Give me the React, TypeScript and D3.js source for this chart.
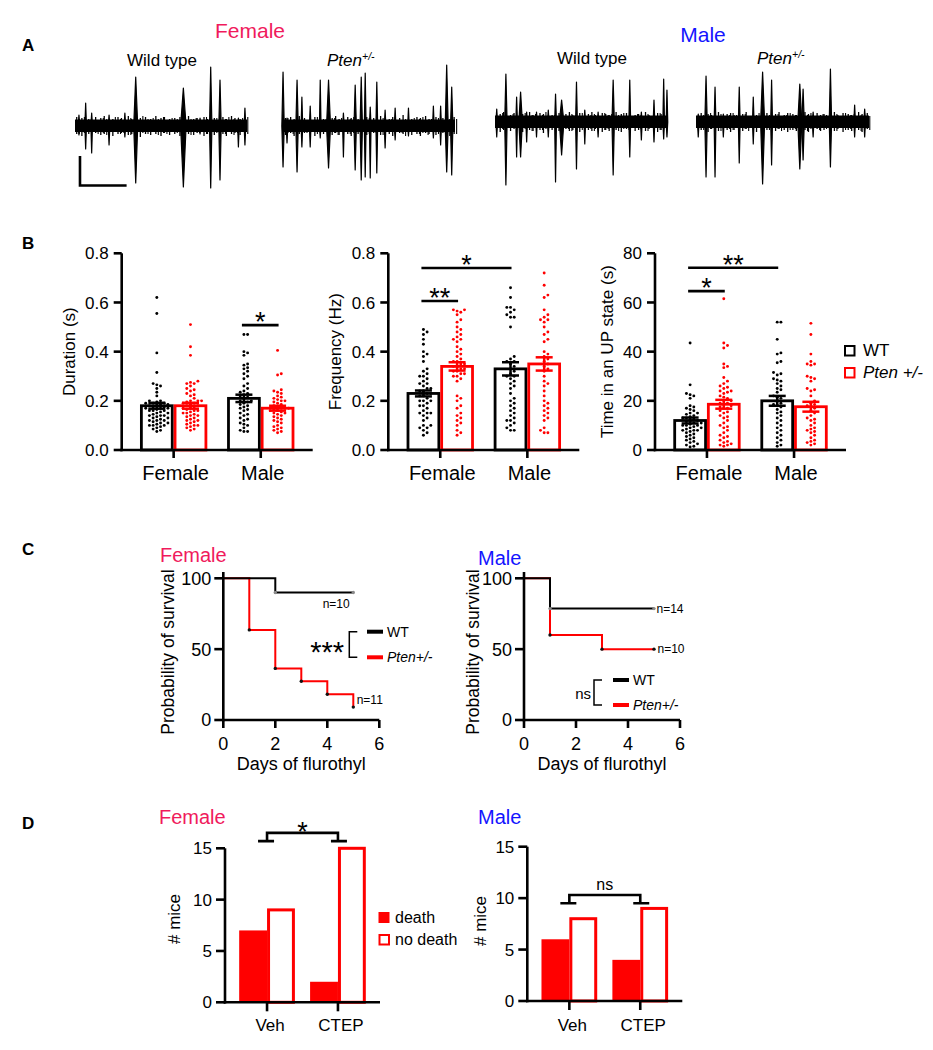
import React from 'react';
import * as d3 from 'd3';

const FONT = "'Liberation Sans', Arial, Helvetica, sans-serif";
const FEMALE_COLOR = '#f01a5c';
const MALE_COLOR = '#1414ff';
const RED = '#ff0000';
const BLACK = '#000000';

// ---------------- Panel A : spikes [position 0-1, up, down, width] ----------------
const femaleWTSpikes = [
  [0.023, 11, 9, 1.6], [0.062, 23, 23, 1.6], [0.097, 13, 27, 1.6], [0.198, 11, 19, 1.6], [0.29, 13, 11, 1.6],
  [0.353, 49, 57, 4], [0.63, 38, 61, 5.5], [0.727, 8, 8, 1.6], [0.789, 59, 62, 2.4], [0.843, 46, 54, 2.4],
  [0.95, 8, 21, 1.6], [0.988, 18, 19, 1.6],
];
const femalePtenSpikes = [
  [0.006, 54, 41, 2.4], [0.029, 8, 17, 1.6], [0.087, 46, 46, 2.4], [0.115, 29, 21, 1.6], [0.163, 20, 21, 1.6],
  [0.221, 46, 12, 1.6], [0.269, 46, 42, 4], [0.355, 13, 31, 1.6], [0.423, 41, 44, 2.4], [0.458, 49, 54, 2.4],
  [0.481, 53, 51, 1.8], [0.51, 19, 52, 1.6], [0.548, 44, 47, 1.8], [0.596, 16, 22, 1.6], [0.654, 18, 14, 1.6],
  [0.731, 18, 10, 1.6], [0.875, 20, 12, 1.6], [0.917, 20, 19, 1.6], [0.952, 61, 46, 3], [0.981, 39, 49, 2.4],
];
const maleWTSpikes = [
  [0.01, 13, 15, 1.6], [0.063, 48, 63, 2.4], [0.125, 25, 35, 1.6], [0.148, 30, 35, 3.5], [0.183, 10, 20, 1.6],
  [0.24, 10, 15, 1.6], [0.308, 12, 15, 1.6], [0.35, 28, 60, 1.8], [0.385, 22, 33, 4.5], [0.471, 40, 47, 1.8],
  [0.519, 12, 22, 1.6], [0.596, 10, 15, 1.6], [0.683, 42, 53, 2.4], [0.779, 42, 35, 1.8], [0.846, 10, 18, 1.6],
  [0.919, 22, 20, 1.6], [0.975, 43, 17, 1.6], [0.994, 32, 15, 1.6],
];
const malePtenSpikes = [
  [0.013, 8, 15, 1.6], [0.058, 46, 55, 2.4], [0.11, 35, 55, 1.8], [0.158, 8, 15, 1.6], [0.25, 35, 41, 1.8],
  [0.331, 25, 22, 1.6], [0.385, 50, 62, 4], [0.437, 42, 43, 1.8], [0.6, 38, 47, 4], [0.619, 33, 38, 2.4],
  [0.677, 10, 15, 1.6], [0.777, 53, 45, 2.4], [0.917, 17, 15, 1.6], [0.975, 13, 15, 1.6],
];
// small ripples of the baseline [position, up, down]
const femaleWTNoise = [
  [0.01, 7, 6], [0.04, 6, 8], [0.08, 5, 6], [0.12, 7, 5], [0.15, 6, 7], [0.17, 8, 6], [0.22, 5, 8], [0.25, 7, 6],
  [0.27, 6, 5], [0.31, 8, 7], [0.33, 5, 6], [0.38, 6, 9], [0.41, 7, 6], [0.44, 5, 7], [0.47, 8, 6], [0.5, 6, 8],
  [0.52, 7, 5], [0.55, 5, 7], [0.58, 6, 6], [0.61, 7, 8], [0.66, 8, 6], [0.69, 5, 7], [0.71, 6, 5], [0.75, 7, 8],
  [0.77, 5, 6], [0.81, 6, 7], [0.86, 7, 6], [0.88, 5, 8], [0.91, 8, 6], [0.93, 6, 5], [0.96, 5, 7], [0.99, 7, 8],
];
const femalePtenNoise = [
  [0.02, 6, 7], [0.05, 7, 5], [0.07, 5, 8], [0.1, 8, 6], [0.13, 6, 5], [0.19, 7, 8], [0.24, 5, 6], [0.29, 6, 7],
  [0.31, 8, 5], [0.33, 5, 7], [0.38, 7, 6], [0.4, 6, 8], [0.44, 5, 6], [0.49, 7, 7], [0.53, 6, 5], [0.57, 8, 7],
  [0.62, 5, 6], [0.64, 7, 8], [0.68, 6, 5], [0.7, 9, 6], [0.75, 5, 7], [0.78, 7, 6], [0.8, 6, 8], [0.83, 8, 5],
  [0.85, 5, 6], [0.89, 7, 7], [0.93, 6, 5], [0.97, 5, 8], [0.995, 7, 6],
];
const maleWTNoise = [
  [0.03, 6, 8], [0.05, 8, 6], [0.09, 5, 7], [0.11, 7, 5], [0.16, 6, 8], [0.2, 8, 6], [0.22, 5, 7], [0.26, 7, 6],
  [0.28, 6, 9], [0.33, 5, 6], [0.37, 7, 7], [0.41, 6, 5], [0.43, 8, 7], [0.45, 5, 6], [0.49, 7, 8], [0.54, 6, 6],
  [0.56, 8, 7], [0.58, 5, 5], [0.62, 7, 8], [0.64, 6, 6], [0.66, 5, 7], [0.7, 8, 6], [0.73, 6, 8], [0.76, 7, 5],
  [0.81, 5, 7], [0.83, 6, 6], [0.87, 8, 7], [0.89, 5, 5], [0.94, 7, 8], [0.96, 6, 6],
];
const malePtenNoise = [
  [0.03, 7, 6], [0.07, 6, 8], [0.09, 5, 5], [0.13, 8, 7], [0.18, 6, 6], [0.2, 7, 8], [0.22, 5, 6], [0.27, 6, 7],
  [0.29, 8, 5], [0.35, 5, 8], [0.41, 7, 6], [0.46, 6, 7], [0.48, 8, 5], [0.51, 5, 6], [0.53, 7, 8], [0.56, 6, 6],
  [0.58, 5, 7], [0.63, 8, 6], [0.65, 6, 8], [0.7, 7, 5], [0.72, 5, 7], [0.74, 6, 6], [0.8, 8, 7], [0.82, 5, 5],
  [0.85, 7, 8], [0.88, 6, 6], [0.9, 5, 7], [0.94, 8, 6], [0.96, 6, 8], [0.99, 7, 5],
];

// ---------------- Panel B ----------------
const sexes = ['Female', 'Male'];
const genotypes = ['WT', 'Pten'];

const durationMeans = [0.18, 0.18, 0.21, 0.17];
const durationSem = [0.012, 0.012, 0.015, 0.01];
const durFemaleWT = [0.62, 0.555, 0.395, 0.315, 0.27, 0.265, 0.26, 0.25, 0.235, 0.22, 0.2, 0.195, 0.19, 0.19, 0.185, 0.185,
  0.18, 0.18, 0.175, 0.175, 0.17, 0.17, 0.165, 0.16, 0.16, 0.155, 0.15, 0.15, 0.145, 0.14, 0.14, 0.135, 0.13, 0.13, 0.125,
  0.12, 0.12, 0.115, 0.11, 0.11, 0.105, 0.1, 0.1, 0.095, 0.09, 0.085, 0.08, 0.075, 0.19, 0.2, 0.17, 0.16, 0.14, 0.12, 0.1];
const durFemalePten = [0.51, 0.42, 0.385, 0.28, 0.275, 0.27, 0.27, 0.26, 0.25, 0.245, 0.24, 0.23, 0.225, 0.22, 0.21, 0.2,
  0.2, 0.195, 0.19, 0.19, 0.185, 0.18, 0.18, 0.175, 0.17, 0.17, 0.165, 0.16, 0.155, 0.15, 0.15, 0.145, 0.14, 0.135, 0.13,
  0.125, 0.12, 0.115, 0.11, 0.105, 0.1, 0.095, 0.09, 0.085, 0.08, 0.2, 0.16, 0.14, 0.12, 0.1];
const durMaleWT = [0.47, 0.47, 0.4, 0.395, 0.385, 0.35, 0.345, 0.335, 0.33, 0.32, 0.31, 0.3, 0.29, 0.27, 0.26, 0.25, 0.24,
  0.235, 0.225, 0.22, 0.215, 0.21, 0.2, 0.195, 0.19, 0.185, 0.18, 0.175, 0.17, 0.165, 0.16, 0.15, 0.145, 0.14, 0.13, 0.125,
  0.12, 0.11, 0.105, 0.1, 0.09, 0.08, 0.075, 0.075, 0.23, 0.2];
const durMalePten = [0.405, 0.31, 0.305, 0.245, 0.24, 0.235, 0.23, 0.22, 0.215, 0.21, 0.205, 0.2, 0.2, 0.195, 0.19, 0.185,
  0.18, 0.175, 0.17, 0.17, 0.165, 0.16, 0.155, 0.15, 0.15, 0.145, 0.14, 0.135, 0.13, 0.125, 0.12, 0.115, 0.11, 0.1, 0.095,
  0.09, 0.085, 0.08, 0.075, 0.07, 0.17, 0.16];
const durationSig = [{ a: 2, b: 3, v: 0.508, label: '*' }];

const freqMeans = [0.23, 0.34, 0.33, 0.35];
const freqSem = [0.012, 0.017, 0.027, 0.027];
const freqFemaleWT = [0.49, 0.48, 0.47, 0.45, 0.43, 0.4, 0.39, 0.38, 0.36, 0.33, 0.32, 0.31, 0.3, 0.3, 0.29, 0.28, 0.27,
  0.27, 0.26, 0.25, 0.24, 0.24, 0.23, 0.23, 0.22, 0.22, 0.21, 0.2, 0.2, 0.19, 0.18, 0.17, 0.16, 0.15, 0.15, 0.15, 0.14,
  0.13, 0.12, 0.1, 0.1, 0.09, 0.09, 0.08, 0.07, 0.06, 0.2, 0.18, 0.25];
const freqFemalePten = [0.57, 0.57, 0.565, 0.56, 0.55, 0.53, 0.52, 0.5, 0.49, 0.48, 0.47, 0.46, 0.45, 0.45, 0.44, 0.42,
  0.41, 0.4, 0.39, 0.38, 0.37, 0.36, 0.36, 0.35, 0.35, 0.34, 0.34, 0.33, 0.33, 0.32, 0.32, 0.31, 0.31, 0.3, 0.3, 0.29, 0.28,
  0.22, 0.21, 0.2, 0.18, 0.17, 0.15, 0.14, 0.13, 0.12, 0.11, 0.1, 0.08, 0.07, 0.06];
const freqMaleWT = [0.66, 0.62, 0.58, 0.58, 0.57, 0.56, 0.55, 0.54, 0.54, 0.5, 0.38, 0.37, 0.36, 0.36, 0.35, 0.34, 0.33,
  0.32, 0.31, 0.3, 0.3, 0.29, 0.28, 0.27, 0.26, 0.25, 0.23, 0.21, 0.2, 0.19, 0.18, 0.17, 0.16, 0.15, 0.14, 0.13, 0.12, 0.12,
  0.11, 0.1, 0.09, 0.08, 0.08];
const freqMalePten = [0.72, 0.67, 0.63, 0.62, 0.57, 0.55, 0.54, 0.53, 0.53, 0.52, 0.5, 0.48, 0.47, 0.45, 0.44, 0.4, 0.39,
  0.38, 0.37, 0.36, 0.35, 0.34, 0.33, 0.32, 0.3, 0.28, 0.27, 0.26, 0.24, 0.22, 0.2, 0.19, 0.18, 0.17, 0.16, 0.15, 0.14,
  0.13, 0.12, 0.09, 0.08, 0.07, 0.07];
const freqSig = [{ a: 0, b: 1, v: 0.606, label: '**' }, { a: 0, b: 2, v: 0.74, label: '*' }];

const timeMeans = [12, 18.6, 20, 17.6];
const timeSem = [1.2, 1.8, 2.0, 2.0];
const timeFemaleWT = [43.5, 26.5, 23, 22.5, 22, 21, 18, 17.5, 17, 16.5, 16, 15, 15, 14.5, 14, 13.5, 13, 13, 12.5, 12, 11.5,
  11, 11, 10.5, 10, 10, 9.5, 9, 9, 8.5, 8, 8, 7.5, 7, 6.5, 6, 5.5, 5, 4.5, 4, 3.5, 3, 2.5, 2, 1.5, 1.2, 12, 10, 8];
const timeFemalePten = [61.5, 43.5, 42.5, 41.5, 35, 34, 33.5, 29.5, 28, 27, 26, 25.5, 25, 24, 24, 23.5, 23, 22, 21.5, 21,
  20, 20, 19, 18.5, 18, 17.5, 17, 16, 15.5, 15, 14, 13.5, 13, 12, 11, 10, 9.5, 9, 8, 7, 6, 5.5, 5, 4, 3.5, 3, 2.5, 2, 2,
  1.5, 19, 17];
const timeMaleWT = [52, 52, 45, 39.5, 39, 36, 35.5, 31.5, 31, 30.5, 29, 28.5, 28, 27, 26, 25, 24.5, 23.5, 22, 21.5, 21, 20,
  19, 18.5, 17.5, 16.5, 15.5, 15, 14, 13, 12, 11, 10, 9, 8, 7, 6, 5, 4, 3, 2, 1.5, 18];
const timeMalePten = [51.5, 47, 39, 36, 35, 35, 34.5, 30, 29.5, 29, 28, 25, 24.5, 24, 22, 20, 19, 18.5, 18, 17, 16, 15, 14,
  13, 12.5, 12, 11, 10, 9, 8.5, 8, 7.5, 7, 6, 5, 4, 3.5, 3, 2.5, 2, 17.5];
const timeSig = [{ a: 0, b: 1, v: 64.6, label: '*' }, { a: 0, b: 2, v: 74.1, label: '**' }];

const durTicks = [0, 0.2, 0.4, 0.6, 0.8];
const freqTicks = [0, 0.2, 0.4, 0.6, 0.8];
const timeTicks = [0, 20, 40, 60, 80];

// ---------------- Panel C : Kaplan-Meier [day, % surviving] ----------------
const survFemaleWT = [[0, 100], [2, 90], [5, 90]];
const survFemalePten = [[0, 100], [1, 63.6], [2, 36.4], [3, 27.3], [4, 18.2], [5, 9.1]];
const survMaleWT = [[0, 100], [1, 78.6], [5, 78.6]];
const survMalePten = [[0, 100], [1, 60], [3, 50], [5, 50]];
const survXTicks = [0, 2, 4, 6];
const survYTicks = [0, 50, 100];

// ---------------- Panel D : counts ----------------
const treatments = ['Veh', 'CTEP'];
const femaleDeath = [7, 2];
const femaleNoDeath = [9, 15];
const maleDeath = [6, 4];
const maleNoDeath = [8, 9];
const countTicks = [0, 5, 10, 15];

// ---------------- helpers ----------------
function swarm(values: number[], y: (v: number) => number, cx: number, half: number, r: number) {
  const placed: { x: number; y: number }[] = [];
  const sorted = [...values].sort((a, b) => a - b);
  const step = r * 2 + 0.8;
  const offsets: number[] = [0];
  for (let k = 1; k * step <= half; k++) offsets.push(k * step, -k * step);
  const minD = r * 2 + 0.6;
  for (const v of sorted) {
    const py = y(v);
    let best = 0;
    let bestScore = -Infinity;
    for (const o of offsets) {
      const px = cx + o;
      let md = Infinity;
      for (const p of placed) {
        const d = Math.hypot(p.x - px, p.y - py);
        if (d < md) md = d;
      }
      if (md >= minD) { best = o; break; }
      if (md > bestScore) { bestScore = md; best = o; }
    }
    placed.push({ x: cx + best, y: py });
  }
  return placed;
}

function Trace({ x0, x1, base, spikes, noise }: any) {
  const xs = d3.scaleLinear().domain([0, 1]).range([x0, x1]);
  const ys = d3.scaleLinear().domain([-80, 80]).range([base + 80, base - 80]);
  return (
    <g>
      <rect x={xs(0)} y={ys(6.5)} width={xs(1) - xs(0)} height={ys(-6) - ys(6.5)} fill={BLACK} />
      {noise.map((n: number[], i: number) => (
        <line key={'n' + i} x1={xs(n[0])} x2={xs(n[0])} y1={ys(n[1] + 2)} y2={ys(-n[2] - 2)} stroke={BLACK} strokeWidth={1.3} />
      ))}
      {noise.map((n: number[], i: number) => (
        <line key={'m' + i} x1={xs(n[0]) + 2.5} x2={xs(n[0]) + 2.5} y1={ys(n[2] + 1)} y2={ys(-n[1] - 1)} stroke={BLACK} strokeWidth={1.1} />
      ))}
      {spikes.map((s: number[], i: number) => {
        const cx = xs(s[0]);
        const w = s[3];
        return (
          <path key={i}
            d={`M${cx - w / 2},${ys(0)}L${cx},${ys(s[1])}L${cx + w / 2},${ys(0)}L${cx},${ys(-s[2])}Z`}
            fill={BLACK} stroke={BLACK} strokeWidth={1.2} strokeLinejoin="round" />
        );
      })}
    </g>
  );
}

function PtenLabel({ x, y, size }: any) {
  return (
    <text x={x} y={y} fontSize={size} fontStyle="italic" fill={BLACK}>
      Pten<tspan fontSize={size * 0.62} dy={-size * 0.38}>+/-</tspan>
    </text>
  );
}

function PanelA() {
  const scaleBar = { t0: 0.029, t1: 0.3, a0: -30, a1: -59.5 };
  const xs = d3.scaleLinear().domain([0, 1]).range([75, 247]);
  const ys = d3.scaleLinear().domain([-80, 80]).range([126 + 80, 126 - 80]);
  return (
    <g>
      <text x={250} y={37.5} fontSize={21} fill={FEMALE_COLOR} textAnchor="middle">Female</text>
      <text x={703} y={42} fontSize={21} fill={MALE_COLOR} textAnchor="middle">Male</text>
      <text x={162} y={66} fontSize={17} textAnchor="middle">Wild type</text>
      <PtenLabel x={327} y={66} size={17} />
      <text x={592} y={64} fontSize={17} textAnchor="middle">Wild type</text>
      <PtenLabel x={757} y={64} size={17} />
      <Trace x0={75} x1={247} base={126} spikes={femaleWTSpikes} noise={femaleWTNoise} />
      <Trace x0={282} x1={455} base={126} spikes={femalePtenSpikes} noise={femalePtenNoise} />
      <Trace x0={495} x1={668} base={122} spikes={maleWTSpikes} noise={maleWTNoise} />
      <Trace x0={696} x1={869} base={122} spikes={malePtenSpikes} noise={malePtenNoise} />
      <path d={`M${xs(scaleBar.t0)},${ys(scaleBar.a0)}V${ys(scaleBar.a1)}H${xs(scaleBar.t1)}`}
        fill="none" stroke={BLACK} strokeWidth={2.6} />
    </g>
  );
}

function BarPanel({ axisX, yMax, ticks, fmt, means, sems, dots, sig, label, labelX }: any) {
  const top = 253.3;
  const bottom = 450;
  const y = d3.scaleLinear().domain([0, yMax]).range([bottom, top]);
  const xSex = d3.scaleBand().domain(sexes).range([axisX, axisX + 191]).paddingInner(0.227).paddingOuter(0.21);
  const xGen = d3.scaleBand().domain(genotypes).range([0, xSex.bandwidth()]);
  const sw = 2.8;
  const bars = sexes.flatMap((s, si) => genotypes.map((g, gi) => {
    const idx = si * 2 + gi;
    const bx = (xSex(s) as number) + (xGen(g) as number);
    return { idx, bx, bw: xGen.bandwidth(), color: gi === 0 ? BLACK : RED };
  }));
  const center = (i: number) => bars[i].bx + bars[i].bw / 2;
  return (
    <g>
      <text transform={`translate(${labelX},${(top + bottom) / 2}) rotate(-90)`} fontSize={17} textAnchor="middle">{label}</text>
      {bars.map((b) => (
        <rect key={'b' + b.idx} x={b.bx + sw / 2} y={y(means[b.idx])} width={b.bw - sw}
          height={bottom - y(means[b.idx])} fill="#fff" stroke={b.color} strokeWidth={sw} />
      ))}
      {bars.map((b) => swarm(dots[b.idx], y, b.bx + b.bw / 2, b.bw / 2 - 4, 1.45).map((p, k) => (
        <circle key={'d' + b.idx + '-' + k} cx={p.x} cy={p.y} r={1.45} fill={b.color} />
      )))}
      {bars.map((b) => {
        const cx = b.bx + b.bw / 2;
        const m = means[b.idx];
        const e = sems[b.idx];
        return (
          <g key={'e' + b.idx} stroke={b.color} strokeWidth={2.5}>
            <line x1={cx} x2={cx} y1={y(m - e)} y2={y(m + e)} />
            <line x1={cx - 8.5} x2={cx + 8.5} y1={y(m + e)} y2={y(m + e)} />
            <line x1={cx - 8.5} x2={cx + 8.5} y1={y(m - e)} y2={y(m - e)} />
          </g>
        );
      })}
      <line x1={axisX} x2={axisX} y1={top} y2={bottom + 1.25} stroke={BLACK} strokeWidth={2.6} />
      <line x1={axisX - 1.3} x2={axisX + 191} y1={bottom} y2={bottom} stroke={BLACK} strokeWidth={2.6} />
      {ticks.map((t: number) => (
        <g key={'t' + t}>
          <line x1={axisX - 8} x2={axisX} y1={y(t)} y2={y(t)} stroke={BLACK} strokeWidth={2.6} />
          <text x={axisX - 13} y={y(t)} dy="0.36em" fontSize={17} textAnchor="end">{fmt(t)}</text>
        </g>
      ))}
      {sexes.map((s) => {
        const cx = (xSex(s) as number) + xSex.bandwidth() / 2;
        return (
          <g key={s}>
            <line x1={cx} x2={cx} y1={bottom} y2={bottom + 8} stroke={BLACK} strokeWidth={2.6} />
            <text x={cx + 2} y={480} fontSize={20} textAnchor="middle">{s}</text>
          </g>
        );
      })}
      {sig.map((s: any, i: number) => {
        const x1 = center(s.a) - 2;
        const x2 = center(s.b) + 1;
        return (
          <g key={'s' + i}>
            <line x1={x1} x2={x2} y1={y(s.v)} y2={y(s.v)} stroke={BLACK} strokeWidth={2.6} />
            <text x={(x1 + x2) / 2} y={y(s.v) + 6} fontSize={27} textAnchor="middle">{s.label}</text>
          </g>
        );
      })}
    </g>
  );
}

function SurvivalPanel({ axisX, wt, pten, title, titleColor, titleX, titleY, labelX, lg }: any) {
  const x = d3.scaleLinear().domain([0, 6]).range([axisX, axisX + 156]);
  const y = d3.scaleLinear().domain([0, 100]).range([720, 578.3]);
  const line = d3.line<number[]>().x((d) => x(d[0])).y((d) => y(d[1])).curve(d3.curveStepAfter);
  return (
    <g>
      <text x={titleX} y={titleY} fontSize={20} fill={titleColor}>{title}</text>
      <text transform={`translate(${labelX},652) rotate(-90)`} fontSize={17.5} textAnchor="middle">Probability of survival</text>
      <path d={line(pten) as string} fill="none" stroke={RED} strokeWidth={2} />
      <path d={line(wt) as string} fill="none" stroke={BLACK} strokeWidth={2} />
      {pten.slice(1).map((d: number[], i: number) => (
        <circle key={'p' + i} cx={x(d[0])} cy={y(d[1])} r={1.7} fill="#111" />
      ))}
      {wt.slice(1).map((d: number[], i: number) => (
        <circle key={'w' + i} cx={x(d[0])} cy={y(d[1])} r={1.7} fill="#8a8a8a" />
      ))}
      <line x1={axisX} x2={axisX} y1={572} y2={721.3} stroke={BLACK} strokeWidth={2.6} />
      <line x1={axisX - 1.3} x2={x(6)} y1={720} y2={720} stroke={BLACK} strokeWidth={2.6} />
      {survYTicks.map((t) => (
        <g key={'y' + t}>
          <line x1={axisX - 9} x2={axisX} y1={y(t)} y2={y(t)} stroke={BLACK} strokeWidth={2.6} />
          <text x={axisX - 12} y={y(t)} dy="0.36em" fontSize={18} textAnchor="end">{t}</text>
        </g>
      ))}
      {survXTicks.map((t) => (
        <g key={'x' + t}>
          <line x1={x(t)} x2={x(t)} y1={720} y2={728} stroke={BLACK} strokeWidth={2.6} />
          <text x={x(t)} y={750} fontSize={18} textAnchor="middle">{t}</text>
        </g>
      ))}
      <text x={x(3)} y={770} fontSize={18} textAnchor="middle">Days of flurothyl</text>
      <text x={lg.n1x} y={lg.n1y} fontSize={12}>{lg.n1}</text>
      <text x={lg.n2x} y={lg.n2y} fontSize={12}>{lg.n2}</text>
      <text x={lg.sigX} y={lg.sigY} fontSize={lg.sigSize} textAnchor="end">{lg.sig}</text>
      <path d={`M${lg.brX + 8},${lg.l1y}H${lg.brX}V${lg.l2y}H${lg.brX + 8}`} fill="none" stroke={BLACK} strokeWidth={1.5} />
      <line x1={lg.lx} x2={lg.lx + 16} y1={lg.l1y} y2={lg.l1y} stroke={BLACK} strokeWidth={4} />
      <line x1={lg.lx} x2={lg.lx + 16} y1={lg.l2y} y2={lg.l2y} stroke={RED} strokeWidth={4} />
      <text x={lg.lx + 20} y={lg.l1y + 5} fontSize={14}>WT</text>
      <text x={lg.lx + 20} y={lg.l2y + 5} fontSize={14} fontStyle="italic">Pten+/-</text>
    </g>
  );
}

function CountPanel({ axisX, top, bottom, death, noDeath, title, titleColor, titleX, labelX, labelY, sig, capV, topV, sigSize, sigDy }: any) {
  const y = d3.scaleLinear().domain([0, 15]).range([bottom, top]);
  const xT = d3.scaleBand().domain(treatments).range([axisX, axisX + 155]).paddingInner(0.214).paddingOuter(0.2);
  const xO = d3.scaleBand().domain(['death', 'noDeath']).range([0, xT.bandwidth()]);
  const c0 = (xT('Veh') as number) + xT.bandwidth() / 2;
  const c1 = (xT('CTEP') as number) + xT.bandwidth() / 2;
  return (
    <g>
      <text x={titleX} y={824} fontSize={20} fill={titleColor}>{title}</text>
      <text transform={`translate(${labelX},${labelY}) rotate(-90)`} fontSize={17} textAnchor="middle"># mice</text>
      {treatments.map((t, i) => {
        const bx = xT(t) as number;
        const dx = bx + (xO('death') as number);
        const nx = bx + (xO('noDeath') as number);
        const bw = xO.bandwidth();
        return (
          <g key={t}>
            <rect x={dx} y={y(death[i])} width={bw} height={bottom - y(death[i])} fill={RED} />
            <rect x={nx + 1.5} y={y(noDeath[i])} width={bw - 3} height={bottom - y(noDeath[i])} fill="#fff" stroke={RED} strokeWidth={3} />
          </g>
        );
      })}
      <line x1={axisX} x2={axisX} y1={top} y2={bottom + 1.3} stroke={BLACK} strokeWidth={2.6} />
      <line x1={axisX - 1.3} x2={axisX + 155} y1={bottom} y2={bottom} stroke={BLACK} strokeWidth={2.6} />
      {countTicks.map((t) => (
        <g key={'y' + t}>
          <line x1={axisX - 9} x2={axisX} y1={y(t)} y2={y(t)} stroke={BLACK} strokeWidth={2.6} />
          <text x={axisX - 13} y={y(t)} dy="0.36em" fontSize={17} textAnchor="end">{t}</text>
        </g>
      ))}
      {treatments.map((t) => {
        const cx = (xT(t) as number) + xT.bandwidth() / 2;
        return (
          <g key={'c' + t}>
            <line x1={cx} x2={cx} y1={bottom} y2={bottom + 9} stroke={BLACK} strokeWidth={2.6} />
            <text x={cx + 3} y={1031} fontSize={17} textAnchor="middle">{t}</text>
          </g>
        );
      })}
      <path d={`M${c0 - 9},${y(capV)}H${c0 + 7}M${c0},${y(capV)}V${y(topV)}H${c1}V${y(capV)}M${c1 - 7},${y(capV)}H${c1 + 9}`}
        fill="none" stroke={BLACK} strokeWidth={2.6} />
      <text x={(c0 + c1) / 2} y={y(topV) + sigDy} fontSize={sigSize} textAnchor="middle">{sig}</text>
    </g>
  );
}

export default function App() {
  const f1 = (t: number) => t.toFixed(1);
  const f0 = (t: number) => String(t);
  return (
    <svg width={933} height={1050} style={{ position: 'absolute', left: 0, top: 0 }} fontFamily={FONT}>
      <rect width={933} height={1050} fill="#fff" />
      <text x={22} y={51} fontSize={17} fontWeight="bold">A</text>
      <text x={22} y={249} fontSize={17} fontWeight="bold">B</text>
      <text x={22} y={555} fontSize={17} fontWeight="bold">C</text>
      <text x={22} y={829} fontSize={17} fontWeight="bold">D</text>

      <PanelA />

      <BarPanel axisX={121.7} yMax={0.8} ticks={durTicks} fmt={f1} means={durationMeans} sems={durationSem}
        dots={[durFemaleWT, durFemalePten, durMaleWT, durMalePten]} sig={durationSig} label="Duration (s)" labelX={75} />
      <BarPanel axisX={388.3} yMax={0.8} ticks={freqTicks} fmt={f1} means={freqMeans} sems={freqSem}
        dots={[freqFemaleWT, freqFemalePten, freqMaleWT, freqMalePten]} sig={freqSig} label="Frequency (Hz)" labelX={341} />
      <BarPanel axisX={655} yMax={80} ticks={timeTicks} fmt={f0} means={timeMeans} sems={timeSem}
        dots={[timeFemaleWT, timeFemalePten, timeMaleWT, timeMalePten]} sig={timeSig} label="Time in an UP state (s)" labelX={613} />
      <rect x={845} y={346} width={9.5} height={9.5} fill="#fff" stroke={BLACK} strokeWidth={2} />
      <text x={863} y={356} fontSize={17}>WT</text>
      <rect x={845} y={368} width={9.5} height={9.5} fill="#fff" stroke={RED} strokeWidth={2} />
      <text x={863} y={378} fontSize={17} fontStyle="italic">Pten +/-</text>

      <SurvivalPanel axisX={223.3} wt={survFemaleWT} pten={survFemalePten} title="Female" titleColor={FEMALE_COLOR}
        titleX={160} titleY={562} labelX={174}
        lg={{ n1: 'n=10', n1x: 322.7, n1y: 608, n2: 'n=11', n2x: 356.7, n2y: 704, sig: '***', sigX: 344, sigY: 662, sigSize: 29,
          brX: 349.3, l1y: 631.7, l2y: 657.3, lx: 367 }} />
      <SurvivalPanel axisX={524} wt={survMaleWT} pten={survMalePten} title="Male" titleColor={MALE_COLOR}
        titleX={478} titleY={565} labelX={479}
        lg={{ n1: 'n=14', n1x: 656.5, n1y: 613, n2: 'n=10', n2x: 657.5, n2y: 653, sig: 'ns', sigX: 591, sigY: 699, sigSize: 15,
          brX: 594, l1y: 680, l2y: 705, lx: 613 }} />

      <CountPanel axisX={225} top={848.3} bottom={1002.3} death={femaleDeath} noDeath={femaleNoDeath}
        title="Female" titleColor={FEMALE_COLOR} titleX={159} labelX={180} labelY={919}
        sig="*" capV={15.7} topV={16.5} sigSize={27} sigDy={8} />
      <CountPanel axisX={527.3} top={846.7} bottom={1001} death={maleDeath} noDeath={maleNoDeath}
        title="Male" titleColor={MALE_COLOR} titleX={478} labelX={486} labelY={921}
        sig="ns" capV={9.5} topV={10.3} sigSize={16} sigDy={-5} />
      <rect x={378.5} y={912} width={11} height={11} fill={RED} />
      <text x={395} y={923} fontSize={16}>death</text>
      <rect x={379.5} y={935} width={9.5} height={9.5} fill="#fff" stroke={RED} strokeWidth={2} />
      <text x={395} y={945} fontSize={16}>no death</text>
    </svg>
  );
}
